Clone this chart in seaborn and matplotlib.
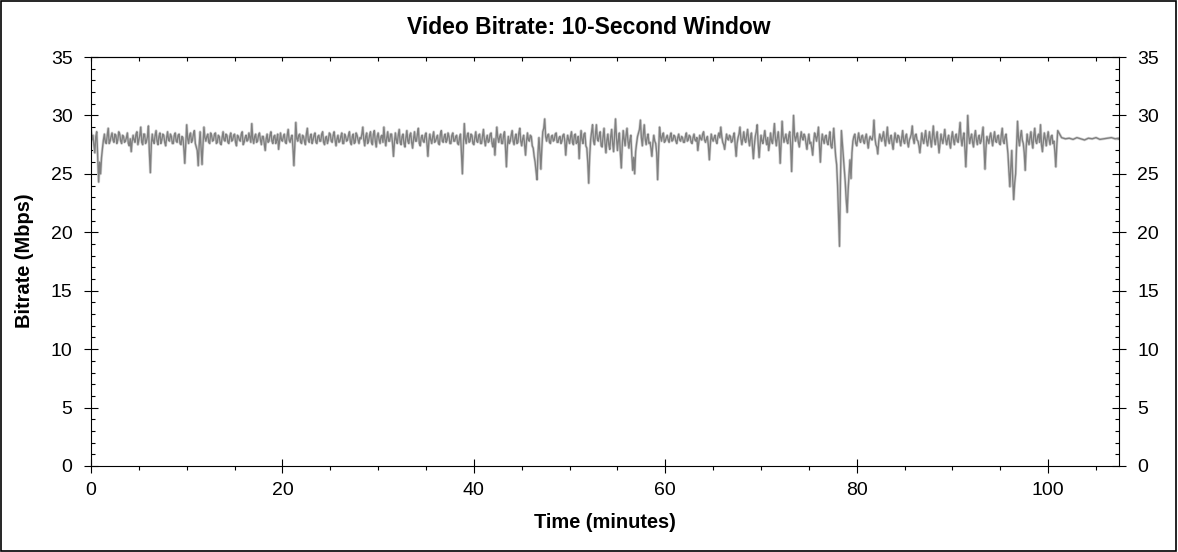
import numpy as np
import pandas as pd
import matplotlib
matplotlib.use("Agg")
import matplotlib.pyplot as plt
from matplotlib.ticker import MultipleLocator
from matplotlib.patches import Rectangle
import seaborn as sns

# ---- data (Mbps), sampled every 0.1 minutes, one list per 10-minute span ----
STEP = 0.1
seg_00 = [28.9, 27.9, 28.3, 27.5, 26.8, 28.2, 28.6, 26.5, 24.3, 26.0,
          25.0, 26.4, 27.2, 27.9, 28.4, 27.7, 27.6, 28.3, 28.9, 27.6,
          27.8, 28.2, 28.5, 27.9, 27.7, 28.4, 28.3, 27.6, 27.9, 28.6,
          28.4, 27.8, 27.6, 28.3, 28.2, 27.7, 27.8, 28.1, 28.5, 27.6,
          27.4, 28.0, 26.9, 27.8, 28.3, 27.9, 27.7, 28.4, 28.6, 27.5,
          27.9, 28.3, 29.0, 27.7, 27.5, 28.4, 28.4, 27.6, 27.8, 28.2,
          29.1, 26.8, 25.1, 27.5, 28.4, 27.8, 27.6, 28.3, 28.7, 27.8,
          27.5, 28.2, 28.5, 27.6, 27.9, 28.4, 28.3, 27.7, 27.4, 28.1,
          28.6, 27.9, 27.8, 28.4, 28.2, 27.6, 27.6, 28.3, 28.5, 27.8,
          27.7, 28.3, 28.4, 27.6, 27.5, 28.2, 28.1, 27.2, 25.9, 27.6]
seg_10 = [29.2, 28.0, 27.6, 28.3, 28.5, 27.7, 27.9, 28.4, 28.7, 27.6,
          27.3, 27.0, 25.7, 27.4, 28.6, 27.2, 25.8, 27.5, 29.0, 28.1,
          27.8, 28.2, 28.4, 27.7, 27.6, 28.5, 28.3, 27.8, 27.9, 28.4,
          28.5, 27.6, 27.7, 28.3, 28.2, 27.6, 27.5, 28.1, 28.6, 27.9,
          27.8, 28.4, 28.3, 27.7, 27.6, 28.2, 28.5, 27.8, 27.9, 28.3,
          28.4, 27.7, 27.4, 28.3, 28.2, 27.9, 27.8, 28.4, 28.6, 27.5,
          27.7, 28.1, 28.3, 27.8, 27.9, 28.5, 28.1, 27.7, 29.3, 28.0,
          27.6, 28.2, 28.4, 27.7, 27.8, 28.3, 28.5, 27.9, 27.5, 28.2,
          28.2, 27.6, 27.0, 28.0, 28.4, 27.7, 27.8, 28.3, 28.6, 27.8,
          27.6, 28.2, 28.3, 27.6, 27.9, 28.4, 27.1, 27.8, 28.5, 27.9]
seg_20 = [27.8, 28.2, 28.4, 27.7, 27.6, 28.3, 28.8, 27.9, 27.7, 28.1,
          28.3, 27.2, 25.7, 27.6, 29.4, 28.0, 27.8, 28.3, 28.4, 27.7,
          27.6, 28.3, 28.2, 27.8, 27.5, 28.4, 28.9, 27.9, 27.7, 28.2,
          28.4, 27.6, 27.9, 28.3, 28.5, 27.7, 27.6, 28.2, 28.3, 27.8,
          27.8, 28.4, 28.6, 27.7, 27.5, 28.1, 28.2, 27.6, 27.9, 28.5,
          28.4, 27.8, 27.7, 28.3, 28.6, 27.9, 27.4, 28.0, 28.3, 27.7,
          27.8, 28.2, 28.5, 27.6, 27.6, 28.4, 28.2, 27.8, 27.9, 28.3,
          28.6, 27.7, 27.5, 28.2, 28.4, 27.6, 27.7, 28.5, 28.3, 27.9,
          27.6, 28.1, 28.0, 28.4, 29.0, 27.9, 27.4, 28.2, 28.5, 27.6,
          27.8, 28.3, 28.6, 27.7, 27.5, 28.4, 28.7, 27.8, 27.3, 28.2]
seg_30 = [28.5, 27.9, 27.6, 28.2, 28.3, 27.7, 29.0, 28.0, 27.4, 28.1,
          28.6, 27.8, 27.8, 28.4, 28.4, 27.6, 26.5, 27.7, 28.5, 27.9,
          27.6, 28.3, 28.8, 27.7, 27.5, 28.2, 28.4, 27.6, 27.3, 28.1,
          28.7, 27.8, 27.6, 28.3, 28.5, 27.7, 27.2, 28.0, 28.6, 27.8,
          27.8, 28.4, 28.9, 27.6, 27.4, 28.1, 28.3, 27.8, 27.7, 28.3,
          28.5, 27.6, 26.5, 27.8, 28.4, 27.9, 27.6, 28.2, 28.6, 27.7,
          27.8, 28.1, 28.3, 27.6, 27.5, 28.4, 28.7, 27.8, 27.7, 28.2,
          28.4, 27.7, 27.9, 28.5, 28.2, 27.6, 27.6, 28.3, 28.5, 27.8,
          27.8, 28.2, 28.3, 27.6, 27.5, 28.1, 28.4, 26.8, 25.0, 27.4,
          29.3, 28.0, 27.6, 28.3, 28.5, 27.7, 27.8, 28.4, 28.3, 27.6]
seg_40 = [27.5, 28.1, 28.6, 27.8, 27.7, 28.3, 28.4, 27.6, 27.6, 28.2,
          28.8, 27.9, 27.4, 28.0, 28.3, 27.7, 27.8, 28.4, 28.5, 27.6,
          27.3, 28.0, 26.6, 27.9, 29.0, 28.1, 27.7, 28.2, 28.4, 27.6,
          27.6, 28.3, 28.6, 27.3, 25.6, 27.4, 28.2, 27.6, 27.8, 28.3,
          28.7, 27.8, 27.5, 28.1, 28.4, 27.6, 27.7, 28.5, 28.9, 27.8,
          27.4, 28.0, 28.3, 27.5, 26.6, 27.8, 28.5, 27.9, 27.8, 28.3,
          28.2, 27.4, 27.2, 26.5, 26.0, 25.2, 24.5, 26.8, 28.1, 26.9,
          25.4, 27.2, 28.6, 28.9, 29.7, 28.2, 27.8, 28.3, 28.4, 27.7,
          27.6, 28.2, 28.3, 27.8, 27.9, 28.4, 28.5, 27.7, 27.7, 28.1,
          28.2, 27.6, 27.8, 28.3, 28.4, 27.8, 26.6, 27.7, 28.3, 27.9]
seg_50 = [27.6, 28.2, 28.6, 27.7, 27.5, 28.3, 28.4, 27.6, 27.7, 28.2,
          26.3, 27.8, 28.7, 27.9, 27.6, 28.4, 28.5, 27.4, 27.2, 26.0,
          24.2, 26.5, 27.9, 28.6, 29.2, 27.8, 27.5, 28.4, 29.2, 28.0,
          27.8, 28.3, 28.6, 27.4, 27.3, 28.2, 28.9, 27.6, 26.8, 27.9,
          28.4, 27.5, 27.1, 28.2, 28.8, 27.6, 26.9, 28.3, 29.7, 28.1,
          27.0, 27.9, 28.5, 26.8, 25.5, 27.4, 28.7, 28.0, 27.4, 28.3,
          28.9, 27.8, 27.2, 27.9, 28.3, 26.6, 25.3, 26.4, 25.0, 26.9,
          27.6, 28.2, 28.5, 28.8, 29.6, 28.1, 27.4, 28.4, 29.2, 28.0,
          27.5, 28.1, 28.4, 27.6, 27.7, 27.2, 26.5, 27.6, 28.3, 27.8,
          27.6, 26.8, 24.5, 26.9, 29.0, 28.2, 27.8, 28.3, 28.5, 27.7]
seg_60 = [27.8, 28.1, 28.3, 27.9, 27.7, 28.2, 28.5, 27.8, 27.9, 28.3,
          28.2, 27.8, 27.6, 28.1, 28.4, 27.9, 27.8, 28.2, 28.1, 27.7,
          27.7, 28.2, 28.5, 27.8, 27.9, 28.3, 28.2, 27.7, 27.6, 28.1,
          28.4, 27.9, 27.8, 28.1, 27.0, 27.7, 28.3, 28.0, 27.9, 28.4,
          28.6, 27.9, 27.7, 28.0, 28.2, 27.4, 26.2, 27.5, 28.4, 28.0,
          27.8, 28.1, 28.3, 27.8, 27.6, 28.2, 28.5, 28.1, 29.0, 28.2,
          27.7, 27.5, 27.1, 27.8, 28.4, 28.0, 27.9, 28.3, 28.2, 27.7,
          27.8, 28.2, 28.5, 27.5, 26.5, 27.6, 28.1, 28.4, 29.0, 28.0,
          27.5, 28.0, 28.6, 27.9, 27.7, 28.3, 28.8, 27.9, 27.4, 28.1,
          28.5, 27.4, 26.3, 27.4, 28.2, 28.6, 29.2, 27.6, 26.4, 27.5]
seg_70 = [28.3, 27.8, 27.6, 28.2, 28.7, 27.9, 27.5, 28.1, 27.0, 27.6,
          28.5, 27.8, 27.6, 28.4, 29.3, 28.0, 27.4, 28.1, 28.6, 27.7,
          25.9, 27.6, 29.5, 28.2, 27.7, 28.1, 28.4, 27.8, 27.6, 28.3,
          28.6, 27.4, 25.2, 27.8, 30.0, 28.3, 27.8, 28.2, 28.5, 27.7,
          27.3, 28.0, 28.6, 28.1, 27.9, 28.4, 28.2, 27.6, 27.1, 27.9,
          28.4, 27.6, 27.7, 27.2, 26.6, 27.8, 28.5, 28.2, 27.8, 28.3,
          29.0, 27.5, 26.0, 27.6, 28.4, 27.9, 27.6, 28.2, 28.3, 27.7,
          27.5, 28.1, 28.6, 27.4, 27.2, 28.0, 28.9, 27.6, 26.5, 25.8,
          24.0, 21.5, 18.8, 24.5, 28.7, 27.6, 26.5, 25.3, 24.3, 22.8,
          21.7, 23.6, 25.0, 26.2, 24.6, 26.8, 27.8, 28.2, 28.4, 27.6]
seg_80 = [27.4, 28.0, 28.5, 27.9, 27.7, 28.2, 28.3, 27.8, 27.6, 28.1,
          28.4, 27.8, 27.2, 27.9, 28.2, 28.0, 27.9, 28.3, 29.6, 28.1,
          27.5, 27.3, 26.7, 27.8, 28.4, 28.1, 27.8, 28.2, 28.6, 27.9,
          27.4, 28.2, 29.0, 27.9, 27.6, 28.1, 28.3, 27.6, 27.1, 27.9,
          28.5, 28.0, 27.7, 28.3, 28.2, 27.8, 27.4, 28.1, 28.7, 27.8,
          27.6, 28.2, 28.4, 27.7, 27.3, 27.9, 28.1, 28.4, 29.1, 28.0,
          27.6, 28.3, 28.4, 27.9, 27.8, 27.4, 26.8, 27.7, 28.5, 27.9,
          27.6, 28.2, 28.7, 27.8, 27.4, 28.0, 28.6, 27.9, 27.3, 28.2,
          29.1, 28.0, 27.5, 28.1, 28.6, 27.7, 26.8, 27.6, 28.4, 27.9,
          27.6, 28.2, 28.8, 27.9, 27.5, 28.0, 28.3, 27.6, 27.2, 28.1]
seg_90 = [28.6, 27.9, 27.5, 28.2, 28.4, 27.8, 27.7, 28.5, 29.4, 28.0,
          27.4, 28.1, 28.5, 27.2, 25.6, 27.5, 30.0, 28.3, 27.6, 28.1,
          28.4, 27.7, 27.3, 28.2, 28.7, 27.9, 27.5, 28.1, 28.3, 27.6,
          27.8, 28.4, 29.0, 27.3, 25.4, 27.2, 28.2, 27.9, 27.6, 28.2,
          28.5, 27.9, 27.4, 28.1, 28.6, 27.8, 27.7, 28.2, 28.3, 27.6,
          27.5, 28.3, 28.9, 27.8, 27.6, 28.2, 28.4, 27.5, 26.7, 25.2,
          23.9, 25.6, 27.0, 24.5, 22.8, 24.2, 25.0, 27.4, 29.5, 28.0,
          27.4, 28.2, 28.7, 27.9, 27.6, 26.8, 25.3, 27.2, 28.4, 27.8,
          27.5, 28.1, 28.6, 27.7, 27.2, 28.3, 28.9, 27.8, 27.6, 28.2,
          28.4, 27.7, 29.2, 27.5, 26.9, 27.8, 28.5, 28.0, 27.4, 28.1,
          28.6, 27.9, 27.5, 28.2, 28.3, 27.6, 27.8, 26.9, 25.6, 27.4,
          28.7]
# steady tail after the main feature, sampled every 0.4 minutes
TAIL_STEP = 0.4
seg_tail = [28.1, 28.0, 28.05, 27.95, 28.1, 28.0, 27.9, 28.05,
            28.0, 28.1, 27.95, 28.0, 28.05, 28.1, 28.0, 28.05]

segments = [(0, seg_00), (10, seg_10), (20, seg_20), (30, seg_30), (40, seg_40),
            (50, seg_50), (60, seg_60), (70, seg_70), (80, seg_80), (90, seg_90)]

times, rates = [], []
for start, vals in segments:
    times.extend(start + STEP * np.arange(len(vals)))
    rates.extend(vals)
tail_start = times[-1] + TAIL_STEP
times.extend(tail_start + TAIL_STEP * np.arange(len(seg_tail)))
rates.extend(seg_tail)
df = pd.DataFrame({"Time (minutes)": times, "Bitrate (Mbps)": rates})

TITLE = "Video Bitrate: 10-Second Window"
XLABEL = "Time (minutes)"
YLABEL = "Bitrate (Mbps)"

# ---- styling ----
sns.set_style("white")
plt.rcParams["font.family"] = ["Liberation Sans", "DejaVu Sans"]
for k in ["text.color", "axes.labelcolor", "xtick.color", "ytick.color",
          "xtick.labelcolor", "ytick.labelcolor"]:
    plt.rcParams[k] = "black"

W, H = 1178, 552
fig = plt.figure(figsize=(W / 100, H / 100), dpi=100)
ax = fig.add_axes([91 / W, 1 - 466 / H, (1119 - 91) / W, (466 - 57) / H])

# soft halo then the main line
sns.lineplot(data=df, x="Time (minutes)", y="Bitrate (Mbps)", ax=ax,
             color="#d4d4d4", linewidth=2.0, estimator=None, sort=False)
sns.lineplot(data=df, x="Time (minutes)", y="Bitrate (Mbps)", ax=ax,
             color="#808080", linewidth=1.0, estimator=None, sort=False)

ax.set_xlim(0, 107.4)
ax.set_ylim(0, 35)
ax.xaxis.set_major_locator(MultipleLocator(20))
ax.xaxis.set_minor_locator(MultipleLocator(5))
ax.yaxis.set_major_locator(MultipleLocator(5))
ax.yaxis.set_minor_locator(MultipleLocator(1))

for s in ax.spines.values():
    s.set_color("black")
    s.set_linewidth(0.8)

ax.tick_params(axis="y", which="major", direction="inout", length=10.5, width=0.8,
               left=True, right=True, labelleft=True, labelright=True,
               labelsize=14, pad=8, colors="black")
ax.tick_params(axis="y", which="minor", direction="in", length=3, width=0.8,
               left=True, right=True)
ax.tick_params(axis="x", which="major", direction="inout", length=10.5, width=0.8,
               bottom=True, top=False, labelsize=14, pad=6, colors="black")
ax.tick_params(axis="x", which="minor", direction="out", length=3, width=0.8,
               bottom=True, top=False)

# top-edge ticks pointing inward
top = ax.secondary_xaxis("top")
top.xaxis.set_major_locator(MultipleLocator(5))
top.tick_params(axis="x", which="major", direction="in", length=3, width=0.8,
                labeltop=False)
top.spines["top"].set_linewidth(0.8)

ax.set_xlabel(XLABEL, fontsize=14.4, fontweight="bold", labelpad=10)
ax.set_ylabel("")
fig.text(25 / W, 1 - 261 / H, YLABEL, rotation=90, ha="center", va="center",
         fontsize=14.4, fontweight="bold")
fig.text(0.5, 1 - 27 / H, TITLE, ha="center", va="center",
         fontsize=16.5, fontweight="bold")

# figure border
fig.patches.append(Rectangle((0.0005, 0.001), 0.998, 0.997, transform=fig.transFigure,
                             fill=False, edgecolor="black", linewidth=1.2))

fig.savefig("out.png", dpi=100, facecolor="white")
